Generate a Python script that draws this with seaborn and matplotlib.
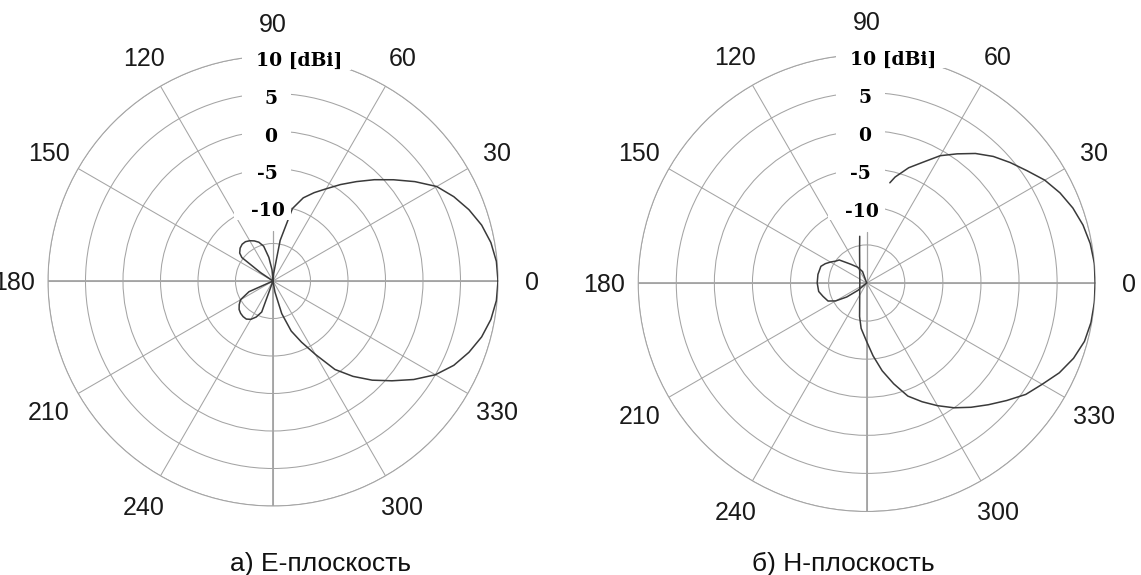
import numpy as np
import seaborn as sns
import matplotlib.pyplot as plt
import matplotlib.transforms as mtransforms
from matplotlib.patches import Rectangle

sns.set_theme(style='white')

# E-plane pattern: angle (deg) -> gain (dBi)
e_angle = [0, 5, 10, 15, 20, 25, 30, 35, 40, 45, 50, 55, 60, 65, 70, 75, 80, 85, 90,
           95, 100, 105, 110, 115, 120, 125, 130, 135, 140, 143, 146, 150, 180, 200,
           204, 210, 215, 220, 225, 230, 235, 240, 245, 250, 255, 275,
           280, 285, 290, 295, 300, 305, 310, 315, 320, 325, 330, 335, 340, 345, 350, 355, 360]
e_gain = [10.0, 9.9, 9.5, 8.8, 7.8, 6.6, 5.2, 3.1, 1.0, -0.9, -2.7, -4.3, -5.8, -7.0, -8.2, -10.0, -14.5, -19.0, -20.0,
          -18.5, -16.8, -15.2, -14.5, -14.1, -13.8, -13.6, -13.6, -13.8, -14.2, -14.8, -18.0, -20.0, -20.0, -20.0,
          -16.5, -15.0, -14.5, -14.1, -13.9, -13.8, -13.8, -14.1, -14.7, -15.6, -20.0, -20.0,
          -18.5, -15.5, -12.9, -11.0, -8.7, -5.6, -3.4, -1.3, 0.7, 2.9, 5.0, 6.6, 7.8, 8.8, 9.5, 9.9, 10.0]

# H-plane main lobe, traced clockwise from 77 deg, ending in the stray line left of the centre
h_angle = [77, 75, 70, 65, 60, 55, 50, 45, 40, 35, 30, 25, 20, 15, 10, 5, 0,
           -5, -10, -15, -20, -25, -30, -35, -40, -45, -50, -55, -60, -65, -70, -75, -80, -85, -90, -95,
           -97, -102, -110, -125, -150, -180, -210, -235, -250, -258, -261.5]
h_gain = [-6.5, -5.6, -3.9, -2.5, -0.7, 0.7, 2.2, 3.5, 4.6, 5.7, 7.0, 8.0, 8.8, 9.4, 9.8, 10.0, 10.0,
          10.0, 9.9, 9.6, 8.9, 7.9, 6.6, 5.5, 4.0, 2.6, 1.3, 0.0, -1.4, -2.8, -4.2, -6.3, -8.3, -10.4, -12.3, -13.6,
          -14.0, -15.5, -17.3, -18.4, -18.95, -19.1, -18.95, -18.4, -17.3, -15.5, -13.8]

# H-plane back lobe
hb_angle = [100, 110, 120, 130, 135, 140, 145, 150, 155, 160, 170, 180, 190, 197, 205, 210, 215, 220, 230]
hb_gain = [-20.0, -18.4, -17.6, -16.8, -16.2, -15.3, -15.0, -14.5, -14.0, -13.6, -13.5, -13.5, -13.6,
           -14.0, -14.4, -15.3, -16.8, -18.5, -20.0]

r_min, r_max = -20, 10
ring_values = [-15, -10, -5, 0, 5, 10]
ring_labels = ['-10', '-5', '0', '5', '10 [dBi]']
ring_label_r = [-10, -5, 0, 5, 10]
angle_ticks = [0, 30, 60, 90, 120, 150, 180, 210, 240, 270, 300, 330]
angle_labels = ['0', '30', '60', '90', '120', '150', '180', '210', '240', '', '300', '330']
captions = ['а) Е-плоскость', 'б) Н-плоскость']

GRID = '#a4a4a4'
CURVE = '#3a3a3a'
PT = 0.72  # points per pixel at dpi 100

ANGLE_FONT = ['Liberation Sans Narrow', 'Liberation Sans', 'DejaVu Sans']
RING_FONT = ['DejaVu Serif']


def white_box(ax, r, x0, x1, h=20, yc=-3.5):
    # box in pixels, anchored at the ring label position on the 90 deg axis
    off = mtransforms.ScaledTranslation(np.pi / 2, r, ax.transData)
    rect = Rectangle((x0, yc - h / 2), x1 - x0, h, transform=off,
                     fc='white', ec='none', zorder=4, clip_on=False)
    ax.add_patch(rect)


def setup(ax):
    ax.set_ylim(r_min, r_max)
    ax.set_yticks(ring_values)
    ax.set_yticklabels([])
    spokes = [a for a in angle_ticks if a != 90]
    ax.set_xticks(np.deg2rad(spokes))
    ax.set_xticklabels([])
    ax.tick_params(length=0, pad=0)
    ax.grid(True, color=GRID, lw=0.75)
    ax.spines['polar'].set_color(GRID)
    ax.spines['polar'].set_linewidth(0.75)
    ax.set_xlabel('')
    ax.set_ylabel('')
    # axis lines a little heavier, 90 deg spoke only near the centre
    for a in (0, 180, 270):
        ax.plot([np.deg2rad(a)] * 2, [r_min, r_max], color=GRID, lw=1.3, zorder=1.5)
    ax.plot([np.pi / 2] * 2, [r_min, -13.3], color=GRID, lw=0.9, zorder=1.5)

    for a, lab in zip(angle_ticks, angle_labels):
        if lab:
            ax.text(np.deg2rad(a), 14.5, lab, ha='center', va='center_baseline',
                    fontsize=18, family=ANGLE_FONT, color='#1a1a1a', clip_on=False)

    dx_px = {'-10': -5, '-5': -6, '0': -2.5, '5': -1.5}
    for lab, r in zip(ring_labels, ring_label_r):
        if lab == '10 [dBi]':
            white_box(ax, r, -31, 78)
            ax.annotate(lab, (np.pi / 2, r), xytext=(-17 * PT, -3 * PT), textcoords='offset points',
                        ha='left', va='center_baseline', fontsize=13.5, fontweight='bold',
                        family=RING_FONT, color='black', zorder=5)
        else:
            white_box(ax, r, -39 if lab == '-10' else -31, 18)
            ax.annotate(lab, (np.pi / 2, r), xytext=(dx_px[lab] * PT, -3.5 * PT), textcoords='offset points',
                        ha='center', va='center_baseline', fontsize=13.5, fontweight='bold',
                        family=RING_FONT, color='black', zorder=5)


fig = plt.figure(figsize=(11.41, 5.75), dpi=100)
ax1 = fig.add_axes([48 / 1141, 69 / 575, 450 / 1141, 450 / 575], projection='polar')
ax2 = fig.add_axes([638.2 / 1141, 63.5 / 575, 457 / 1141, 457 / 575], projection='polar')

sns.lineplot(x=np.deg2rad(e_angle), y=e_gain, ax=ax1, sort=False, estimator=None,
             color=CURVE, lw=1.1, zorder=3)
sns.lineplot(x=np.deg2rad(h_angle), y=h_gain, ax=ax2, sort=False, estimator=None,
             color=CURVE, lw=1.1, zorder=3)
sns.lineplot(x=np.deg2rad(hb_angle), y=hb_gain, ax=ax2, sort=False, estimator=None,
             color=CURVE, lw=1.1, zorder=3)

for ax in (ax1, ax2):
    setup(ax)

fig.text(320 / 1141, 4 / 575, captions[0], ha='center', va='baseline', fontsize=19,
         family=['Liberation Sans', 'DejaVu Sans'], color='#111111')
fig.text(843 / 1141, 4 / 575, captions[1], ha='center', va='baseline', fontsize=19,
         family=['Liberation Sans', 'DejaVu Sans'], color='#111111')

fig.savefig('out.png', dpi=100, facecolor='white')
